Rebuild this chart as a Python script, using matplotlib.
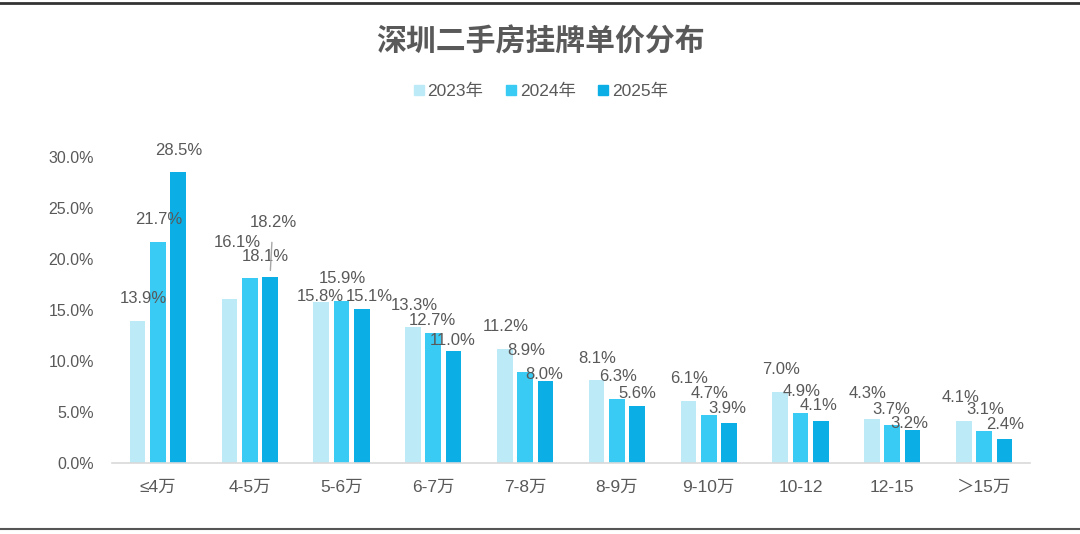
import numpy as np
import matplotlib.pyplot as plt
from matplotlib.lines import Line2D

# data
categories = ['≤4万', '4-5万', '5-6万', '6-7万', '7-8万', '8-9万', '9-10万', '10-12', '12-15', '＞15万']
years = ['2023年', '2024年', '2025年']
v2023 = [13.9, 16.1, 15.8, 13.3, 11.2, 8.1, 6.1, 7.0, 4.3, 4.1]
v2024 = [21.7, 18.1, 15.9, 12.7, 8.9, 6.3, 4.7, 4.9, 3.7, 3.1]
v2025 = [28.5, 18.2, 15.1, 11.0, 8.0, 5.6, 3.9, 4.1, 3.2, 2.4]

colors = ['#BDEAF7', '#3ACBF4', '#0BAFE6']
txt = '#595959'
fam = ['Liberation Sans Narrow', 'Liberation Sans', 'Noto Sans CJK SC', 'DejaVu Sans']
plt.rcParams['font.family'] = fam

# label nudges (pixels) where the reference labels sit off the default spot
nudge = {(0, 0): (6, 23), (0, 1): (8, 56), (1, 1): (16, 22), (2, 1): (3, 55),
         (0, 2): (-1, 5), (2, 2): (8, 12), (1, 3): (-1, 13), (2, 3): (-1, 10),
         (2, 4): (-1, 7), (2, 5): (0, 12), (2, 6): (-2, 15), (2, 7): (-2, 16),
         (0, 8): (-4, 26), (1, 8): (-1, 16), (2, 8): (-3, 7), (0, 9): (-3, 24),
         (2, 9): (1, 14)}

fig = plt.figure(figsize=(10.8, 5.34), dpi=100)
ax = fig.add_axes([112 / 1080, 71 / 534, 918 / 1080, 306 / 534])

x = np.arange(len(categories))
step = 0.221
w = 0.171
series = [v2023, v2024, v2025]
for s, vals in enumerate(series):
    pos = x + (s - 1) * step
    ax.bar(pos, vals, width=w, color=colors[s], zorder=2)
    for i, v in enumerate(vals):
        dx, dy = nudge.get((s, i), (1, 22))
        kw = {}
        if (s, i) == (2, 1):
            kw['arrowprops'] = dict(arrowstyle='-', color='#A6A6A6', lw=1,
                                    shrinkA=7, shrinkB=5)
        ax.annotate('%.1f%%' % v, xy=(pos[i], v), xytext=(dx, dy),
                    textcoords='offset pixels', ha='center', va='center',
                    fontsize=12, color=txt, **kw)

ax.set_xlim(-0.5, len(categories) - 0.5)
ax.set_ylim(0, 30)
ax.set_yticks(np.arange(0, 31, 5))
ax.set_yticklabels(['%.1f%%' % t for t in np.arange(0, 31, 5)])
ax.set_xticks(x)
ax.set_xticklabels(categories)
ax.tick_params(axis='both', length=0, labelcolor=txt)
ax.tick_params(axis='y', pad=13, labelsize=11.5)
ax.tick_params(axis='x', pad=12, labelsize=12.5)
for sp in ['top', 'right', 'left']:
    ax.spines[sp].set_visible(False)
ax.spines['bottom'].set_color('#D9D9D9')
ax.spines['bottom'].set_linewidth(1.2)

fig.text(0.5, 1 - 42 / 534, '深圳二手房挂牌单价分布', ha='center', va='center',
         fontsize=21.5, fontweight='bold', color=txt)

handles = [Line2D([], [], marker='s', linestyle='none', markersize=7,
                  markerfacecolor=c, markeredgecolor=c) for c in colors]
fig.legend(handles, years, loc='center', bbox_to_anchor=(0.5, 1 - 91 / 534),
           ncol=3, frameon=False, fontsize=12.5, labelcolor=txt,
           handletextpad=0.1, columnspacing=1.2, handlelength=0.8)

fig.add_artist(Line2D([0, 1], [1 - 3 / 534, 1 - 3 / 534], color='#333333', lw=2))
fig.add_artist(Line2D([0, 1], [1 - 529 / 534, 1 - 529 / 534], color='#555555', lw=1.5))

fig.savefig('out.png', dpi=100, facecolor='white')
